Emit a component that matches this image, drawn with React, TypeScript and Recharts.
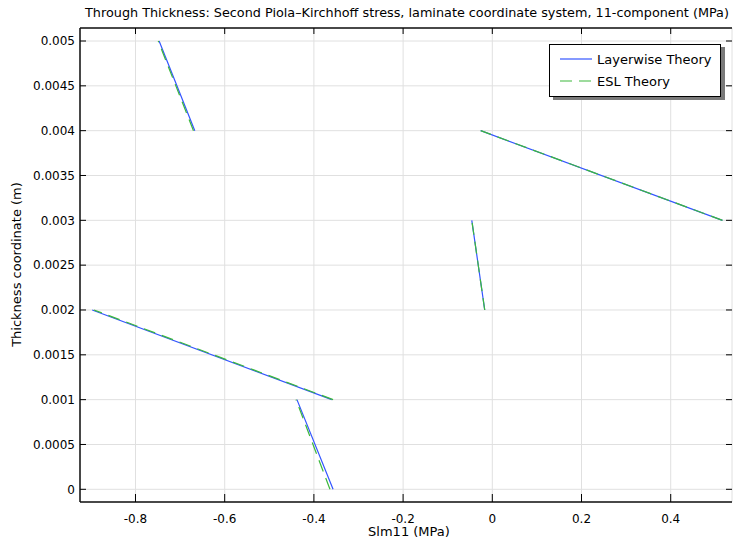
import React from 'react';
import { LineChart, Line, XAxis, YAxis, CartesianGrid } from 'recharts';

// layer interfaces through the thickness (m)
const layerBounds = [0, 0.001, 0.002, 0.003, 0.004, 0.005];

// stress at bottom / top of each layer (MPa)
const layerwiseBottom = [-0.357, -0.36, -0.017, 0.516, -0.667];
const layerwiseTop = [-0.438, -0.897, -0.046, -0.026, -0.747];
const eslBottom = [-0.364, -0.357, -0.017, 0.516, -0.67];
const eslTop = [-0.44, -0.893, -0.046, -0.026, -0.749];

const xTicks = [-0.8, -0.6, -0.4, -0.2, 0, 0.2, 0.4];
const yTicks = [0, 0.0005, 0.001, 0.0015, 0.002, 0.0025, 0.003, 0.0035, 0.004, 0.0045, 0.005];

const W = 733;
const H = 541;
const PLOT = { left: 80, top: 28, right: 732, bottom: 502 };
const FONT = '"DejaVu Sans", sans-serif';

type Pt = { s: number | null; z: number | null };

function buildSeries(bottom: number[], top: number[]): Pt[] {
  const out: Pt[] = [];
  bottom.forEach((b, i) => {
    out.push({ s: b, z: layerBounds[i] });
    out.push({ s: top[i], z: layerBounds[i + 1] });
    out.push({ s: null, z: null });
  });
  return out;
}

const layerwiseData = buildSeries(layerwiseBottom, layerwiseTop);
const eslData = buildSeries(eslBottom, eslTop);

const fmt = (v: number) => String(v);

const LeftTick = (props: any) => {
  const { y, payload } = props;
  return (
    <g>
      <line x1={PLOT.left} x2={PLOT.left + 6} y1={y} y2={y} stroke="#000" />
      <text x={PLOT.left - 5} y={y} dy="0.36em" textAnchor="end" fontSize={12} fill="#000" fontFamily={FONT}>
        {fmt(payload.value)}
      </text>
    </g>
  );
};

const BottomTick = (props: any) => {
  const { x, payload } = props;
  return (
    <g>
      <line x1={x} x2={x} y1={PLOT.bottom} y2={PLOT.bottom - 8} stroke="#000" />
      <text x={x} y={PLOT.bottom + 12} dy="0.71em" textAnchor="middle" fontSize={12} fill="#000" fontFamily={FONT}>
        {fmt(payload.value)}
      </text>
    </g>
  );
};

const TopTick = (props: any) => {
  const { x } = props;
  return <line x1={x} x2={x} y1={PLOT.top} y2={PLOT.top + 6} stroke="#000" />;
};

const RightTick = (props: any) => {
  const { y } = props;
  return <line x1={PLOT.right} x2={PLOT.right - 6} y1={y} y2={y} stroke="#000" />;
};

const xDomain: [number, number] = [-0.9244, 0.5374];
const yDomain: [number, number] = [-0.0001416, 0.005145];

export default function App() {
  return (
    <div style={{ position: 'absolute', left: 0, top: 0, width: W, height: H, background: '#fff', fontFamily: FONT }}>
      <LineChart
        width={W}
        height={H}
        margin={{ top: PLOT.top - 1, left: PLOT.left - 1, right: W - PLOT.right - 1, bottom: H - PLOT.bottom - 1 }}
      >
        <CartesianGrid stroke="#e0e0e0" strokeWidth={1} />
        <XAxis
          dataKey="s"
          type="number"
          domain={xDomain}
          ticks={xTicks}
          allowDataOverflow
          height={1}
          tickLine={false}
          tick={<BottomTick />}
          axisLine={{ stroke: '#111', strokeWidth: 1.5 }}
          interval={0}
        />
        <XAxis
          xAxisId="top"
          orientation="top"
          dataKey="s"
          type="number"
          domain={xDomain}
          ticks={xTicks}
          allowDataOverflow
          height={1}
          tickLine={false}
          tick={<TopTick />}
          axisLine={{ stroke: '#111', strokeWidth: 1.5 }}
          interval={0}
        />
        <YAxis
          type="number"
          domain={yDomain}
          ticks={yTicks}
          allowDataOverflow
          width={1}
          tickLine={false}
          tick={<LeftTick />}
          axisLine={{ stroke: '#111', strokeWidth: 1.5 }}
          interval={0}
        />
        <YAxis
          yAxisId="right"
          orientation="right"
          type="number"
          domain={yDomain}
          ticks={yTicks}
          allowDataOverflow
          width={1}
          tickLine={false}
          tick={<RightTick />}
          axisLine={false}
          interval={0}
        />
        <Line
          data={layerwiseData}
          dataKey="z"
          stroke="#3355ff"
          strokeWidth={1.2}
          dot={false}
          activeDot={false}
          connectNulls={false}
          isAnimationActive={false}
        />
        <Line
          data={eslData}
          dataKey="z"
          stroke="#3cb83c"
          strokeWidth={1.2}
          strokeDasharray="12 7"
          dot={false}
          activeDot={false}
          connectNulls={false}
          isAnimationActive={false}
        />
      </LineChart>

      <div style={{ position: 'absolute', left: 0, width: 814, top: 5, textAlign: 'center', fontSize: 12.8, color: '#000', whiteSpace: 'nowrap' }}>
        Through Thickness: Second Piola–Kirchhoff stress, laminate coordinate system, 11-component (MPa)
      </div>
      <div style={{ position: 'absolute', left: 309, width: 200, top: 524, textAlign: 'center', fontSize: 13, color: '#000' }}>
        Slm11 (MPa)
      </div>
      <div
        style={{
          position: 'absolute',
          left: 16 - 100,
          top: 265 - 8,
          width: 200,
          textAlign: 'center',
          fontSize: 13,
          color: '#000',
          transform: 'rotate(-90deg)',
          whiteSpace: 'nowrap',
        }}
      >
        Thickness coordinate (m)
      </div>

      <div
        style={{
          position: 'absolute',
          left: 549,
          top: 44,
          width: 170,
          height: 51,
          border: '1px solid #000',
          background: '#fff',
          boxShadow: '4px 3px 0 #7a7a7a',
          fontSize: 13,
          color: '#000',
        }}
      >
        {[
          { name: 'Layerwise Theory', color: '#3355ff', dash: undefined },
          { name: 'ESL Theory', color: '#3cb83c', dash: '12 7' },
        ].map((it, i) => (
          <div key={it.name} style={{ position: 'absolute', left: 10, top: 6 + i * 22, height: 16, display: 'flex', alignItems: 'center' }}>
            <svg width={32} height={4} style={{ marginRight: 5 }}>
              <line x1={0} x2={32} y1={2} y2={2} stroke={it.color} strokeWidth={1.2} strokeDasharray={it.dash} />
            </svg>
            <span>{it.name}</span>
          </div>
        ))}
      </div>
    </div>
  );
}
